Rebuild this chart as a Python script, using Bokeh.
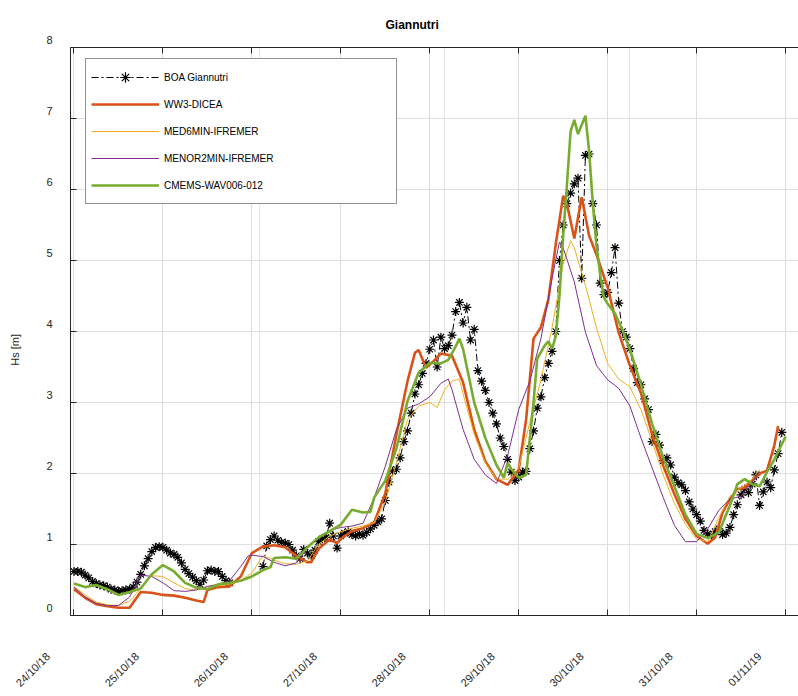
import math
from bokeh.plotting import figure
from bokeh.models import Range1d, FixedTicker, LinearAxis, Legend, LegendItem, Grid
from bokeh.embed import file_html
from bokeh.resources import INLINE

nan = float("nan")

# x axis: hours from 24/10/18 00:00
tick_hours = [0, 24, 48, 72, 96, 120, 144, 168, 192]
tick_labels = ["24/10/18", "25/10/18", "26/10/18", "27/10/18", "28/10/18",
               "29/10/18", "30/10/18", "31/10/18", "01/11/19"]
y_ticks = [0, 1, 2, 3, 4, 5, 6, 7, 8]
y_labels = ["0", "1", "2", "3", "4", "5", "6", "7", "8"]

# BOA Giannutri (hourly observations)
boa_hours = list(range(0, 192))
boa_hs = [
    0.62, 0.62, 0.61, 0.57, 0.53, 0.48, 0.45, 0.43, 0.42, 0.40, 0.37, 0.36,
    0.34, 0.35, 0.36, 0.37, 0.40, 0.47, 0.58, 0.70, 0.80, 0.90, 0.96, 0.97,
    0.96, 0.92, 0.88, 0.86, 0.82, 0.74, 0.65, 0.59, 0.54, 0.49, 0.44, 0.50,
    0.63, 0.64, 0.62, 0.62, 0.55, 0.49, 0.46, nan, nan, nan, nan, nan,
    nan, nan, nan, 0.69, 0.98, 1.07, 1.12, 1.06, 1.03, 1.02, 1.00, 0.92,
    0.84, 0.80, 0.93, 0.88, 0.84, 0.92, 1.04, 1.08, 1.10, 1.30, 1.12, 0.95,
    1.12, 1.16, 1.18, 1.14, 1.12, 1.15, 1.13, 1.17, 1.22, 1.27, 1.32, 1.36,
    1.62, 1.88, 2.03, 2.06, 2.22, 2.45, 2.60, 2.85, 3.12, 3.25, 3.41, 3.55,
    3.75, 3.88, 3.50, 3.92, 3.76, 3.80, 3.95, 4.28, 4.41, 4.12, 4.34, 3.88,
    4.03, 3.45, 3.30, 3.17, 3.00, 2.85, 2.70, 2.50, 2.38, 2.20, 2.02, 1.90,
    1.95, 2.02, 2.03, 2.35, 2.60, 2.92, 3.08, 3.35, 3.55, 3.72, 4.00, 5.00,
    5.50, 5.80, 5.95, 6.08, 6.16, 4.75, 6.48, 6.50, 5.80, 5.50, 4.68, 4.52,
    4.55, 4.83, 5.18, 4.40, 4.00, 3.92, 3.76, 3.48, 3.28, 3.25, 3.05, 2.90,
    2.45, 2.55, 2.40, 2.18, 2.22, 2.12, 1.95, 1.87, 1.84, 1.76, 1.60, 1.50,
    1.42, 1.33, 1.20, 1.15, 1.12, 1.18, 1.22, 1.14, 1.16, 1.24, 1.42, 1.56,
    1.70, 1.78, 1.73, 1.85, 1.98, 1.55, 1.74, 1.88, 1.80, 2.05, 2.28, 2.58,
]

# WW3-DICEA
ww3_hours = [0, 3, 6, 9, 12, 15, 18, 21, 24, 27, 30, 33, 35, 36, 39, 42, 45, 48, 51, 54,
             57, 60, 63, 64, 66, 69, 71, 72, 75, 78, 81, 84, 87, 90, 92, 93, 95, 97, 99, 102,
             105, 108, 111, 114, 117, 120, 122, 124, 126, 128, 130, 132, 133, 135, 137, 139,
             141, 144, 147, 150, 153, 156, 159, 162, 165, 168, 171, 173, 175, 177, 179, 181,
             183, 185, 187, 189, 190]
ww3_hs = [0.37, 0.25, 0.16, 0.13, 0.11, 0.11, 0.33, 0.32, 0.29, 0.28, 0.25, 0.21, 0.19, 0.36,
          0.40, 0.41, 0.55, 0.88, 0.97, 0.99, 0.96, 0.84, 0.75, 0.75, 0.94, 1.07, 1.02, 1.08,
          1.19, 1.23, 1.31, 1.72, 2.55, 3.30, 3.70, 3.74, 3.49, 3.58, 3.69, 3.66, 3.28, 2.62,
          2.17, 1.92, 1.84, 2.05, 2.76, 3.90, 4.06, 4.45, 5.23, 5.91, 5.80, 5.31, 5.89, 5.35,
          5.08, 4.62, 3.98, 3.52, 3.13, 2.55, 2.11, 1.71, 1.36, 1.12, 1.01, 1.10, 1.45, 1.64,
          1.78, 1.80, 1.90, 2.00, 2.04, 2.40, 2.67]

# MED6MIN-IFREMER
med_hours = [0, 3, 6, 9, 12, 15, 18, 21, 24, 27, 30, 33, 36, 39, 42, 45, 48, 51, 54, 57,
             60, 63, 66, 69, 72, 75, 78, 81, 84, 87, 90, 93, 96, 98, 100, 102, 104, 105, 108,
             111, 114, 117, 120, 123, 126, 129, 132, 134, 135, 138, 141, 144, 147, 150, 153,
             156, 159, 162, 165, 168, 171, 174, 177, 180, 183, 185]
med_hs = [0.41, 0.29, 0.19, 0.15, 0.14, 0.20, 0.38, 0.56, 0.55, 0.46, 0.38, 0.36, 0.40, 0.42,
          0.44, 0.49, 0.60, 0.84, 0.78, 0.73, 0.72, 0.77, 1.00, 1.12, 1.18, 1.23, 1.26, 1.31,
          1.60, 2.15, 2.76, 2.95, 3.00, 2.93, 3.18, 3.30, 3.33, 3.12, 2.55, 2.15, 1.92, 1.92,
          2.08, 2.72, 3.32, 4.05, 4.95, 5.28, 5.18, 4.65, 4.05, 3.55, 3.33, 3.22, 2.90, 2.45,
          1.98, 1.58, 1.28, 1.08, 1.04, 1.38, 1.68, 1.80, 1.92, 2.06]

# MENOR2MIN-IFREMER
men_hours = [0, 3, 6, 9, 12, 15, 18, 21, 24, 27, 30, 33, 36, 39, 42, 45, 47, 48, 51, 54,
             57, 60, 63, 66, 69, 72, 75, 78, 81, 84, 87, 90, 93, 96, 99, 101, 102, 105, 108,
             111, 114, 117, 120, 123, 126, 129, 131, 132, 135, 138, 141, 144, 147, 150, 153,
             156, 159, 162, 165, 168, 171, 174, 177, 180, 183, 185]
men_hs = [0.40, 0.26, 0.17, 0.14, 0.14, 0.26, 0.57, 0.55, 0.46, 0.35, 0.34, 0.36, 0.41, 0.44,
          0.49, 0.69, 0.84, 0.85, 0.83, 0.75, 0.70, 0.74, 0.95, 1.10, 1.20, 1.24, 1.26, 1.30,
          1.66, 2.10, 2.62, 2.92, 2.98, 3.08, 3.27, 3.33, 3.18, 2.62, 2.20, 1.98, 1.86, 2.25,
          2.90, 3.30, 3.90, 4.75, 5.26, 5.18, 4.70, 3.99, 3.52, 3.32, 3.20, 2.95, 2.50, 2.08,
          1.66, 1.27, 1.04, 1.04, 1.22, 1.48, 1.64, 1.68, 1.88, 2.03]

# CMEMS-WAV006-012
cm_hours = [0, 3, 6, 9, 12, 15, 18, 21, 24, 27, 30, 33, 36, 39, 42, 45, 48, 51, 53, 54,
            57, 60, 63, 66, 69, 72, 75, 78, 80, 81, 84, 87, 90, 93, 96, 99, 101, 103, 104, 105,
            108, 111, 114, 116, 117, 118, 120, 122, 124, 125, 127, 128, 129, 130, 131, 132,
            133, 134, 135, 136, 138, 139, 140, 141, 142, 143, 144, 146, 148, 150, 153, 156,
            159, 162, 165, 168, 171, 174, 177, 179, 181, 183, 185, 187, 189, 192]
cm_hs = [0.45, 0.40, 0.43, 0.37, 0.29, 0.33, 0.38, 0.58, 0.71, 0.62, 0.46, 0.39, 0.37, 0.44,
         0.46, 0.49, 0.55, 0.64, 0.68, 0.81, 0.82, 0.80, 0.96, 1.10, 1.19, 1.28, 1.49, 1.45,
         1.46, 1.66, 1.90, 2.35, 3.02, 3.42, 3.56, 3.55, 3.60, 3.79, 3.90, 3.75, 3.00, 2.50,
         2.12, 1.94, 2.15, 2.06, 1.94, 1.98, 3.00, 3.62, 3.80, 3.86, 3.76, 3.93, 4.50, 5.35,
         6.05, 6.82, 6.98, 6.78, 7.04, 6.54, 5.80, 5.20, 4.80, 4.48, 4.39, 4.25, 4.02, 3.75,
         3.25, 2.70, 2.22, 1.82, 1.42, 1.15, 1.09, 1.17, 1.55, 1.85, 1.92, 1.85, 1.82, 2.02,
         2.20, 2.52]

FONT = "Liberation Sans"
AX = "#262626"
GRID = "#dedede"
NBSP = "\u00a0"

p = figure(width=798, height=696, x_range=Range1d(-0.94, 195.5), y_range=Range1d(0, 8),
           output_backend="svg", toolbar_location=None,
           x_axis_location=None, y_axis_location=None,
           min_border_left=70, min_border_right=0, min_border_top=46, min_border_bottom=79)
p.outline_line_color = None
p.background_fill_color = "white"
p.border_fill_color = "white"

p.title.text = "Giannutri"
p.title.align = "left"
p.title.offset = 315
p.title.standoff = 31
p.title.text_font = FONT
p.title.text_font_size = "12px"
p.title.text_font_style = "bold"
p.title.text_color = "black"

p.add_layout(Grid(dimension=0, ticker=FixedTicker(ticks=tick_hours),
                  grid_line_color=GRID, grid_line_width=1))
p.add_layout(Grid(dimension=1, ticker=FixedTicker(ticks=y_ticks),
                  grid_line_color=GRID, grid_line_width=1))

# top: ticks only (labels not painted)
top_axis = LinearAxis(ticker=FixedTicker(ticks=tick_hours), axis_line_color=AX,
                      major_tick_line_color=AX, major_tick_in=6, major_tick_out=0,
                      minor_tick_line_color=None, major_label_text_color=None,
                      major_label_text_font_size="1px", major_label_standoff=0)
p.add_layout(top_axis, "above")

# bottom: inward ticks + rotated date labels (shifted left like the original)
pad = NBSP * 12
xaxis = LinearAxis(ticker=FixedTicker(ticks=tick_hours), axis_line_color=AX,
                   major_tick_line_color=AX, major_tick_in=6, major_tick_out=0,
                   minor_tick_line_color=None,
                   major_label_overrides={h: t + pad for h, t in zip(tick_hours, tick_labels)},
                   major_label_orientation=math.pi / 4, major_label_standoff=13,
                   major_label_text_font=FONT, major_label_text_font_size="11px",
                   major_label_text_color=AX)
p.add_layout(xaxis, "below")

# left: labels sit slightly above their ticks, as in the original
yaxis = LinearAxis(ticker=FixedTicker(ticks=y_ticks), axis_line_color=AX,
                   major_tick_line_color=AX, major_tick_in=6, major_tick_out=0,
                   minor_tick_line_color=None, major_label_standoff=18,
                   major_label_overrides={v: t + "\n" + NBSP for v, t in zip(y_ticks, y_labels)},
                   major_label_text_font=FONT, major_label_text_font_size="11px",
                   major_label_text_color=AX,
                   axis_label="Hs [m]" + NBSP * 12,
                   axis_label_text_font=FONT, axis_label_text_font_size="11px",
                   axis_label_text_font_style="normal", axis_label_text_color=AX,
                   axis_label_standoff=22)
p.add_layout(yaxis, "left")

boa_line = p.line(boa_hours, boa_hs, line_color="black", line_width=1, line_dash="7 3 2 3")
boa_pts = p.scatter(boa_hours, boa_hs, marker="asterisk", size=9, line_color="black",
                    line_width=1.2)
ww3 = p.line(ww3_hours, ww3_hs, line_color="#D95319", line_width=2.6)
med = p.line(med_hours, med_hs, line_color="#EDB120", line_width=1)
men = p.line(men_hours, men_hs, line_color="#7E2F8E", line_width=1)
cm = p.line(cm_hours, cm_hs, line_color="#77AC30", line_width=2.6)

legend = Legend(items=[
    LegendItem(label="BOA Giannutri", renderers=[boa_line, boa_pts]),
    LegendItem(label="WW3-DICEA", renderers=[ww3]),
    LegendItem(label="MED6MIN-IFREMER", renderers=[med]),
    LegendItem(label="MENOR2MIN-IFREMER", renderers=[men]),
    LegendItem(label="CMEMS-WAV006-012", renderers=[cm]),
], location=(15, 411), glyph_width=68, glyph_height=26, label_height=26, spacing=1,
    padding=5, margin=0, label_standoff=5, label_width=227,
    border_line_color=AX, border_line_width=1, background_fill_color="white",
    background_fill_alpha=1, label_text_font=FONT, label_text_font_size="10px",
    label_text_color="black", label_text_baseline="alphabetic")
p.add_layout(legend, "center")

open("out.html", "w").write(file_html(p, INLINE))
